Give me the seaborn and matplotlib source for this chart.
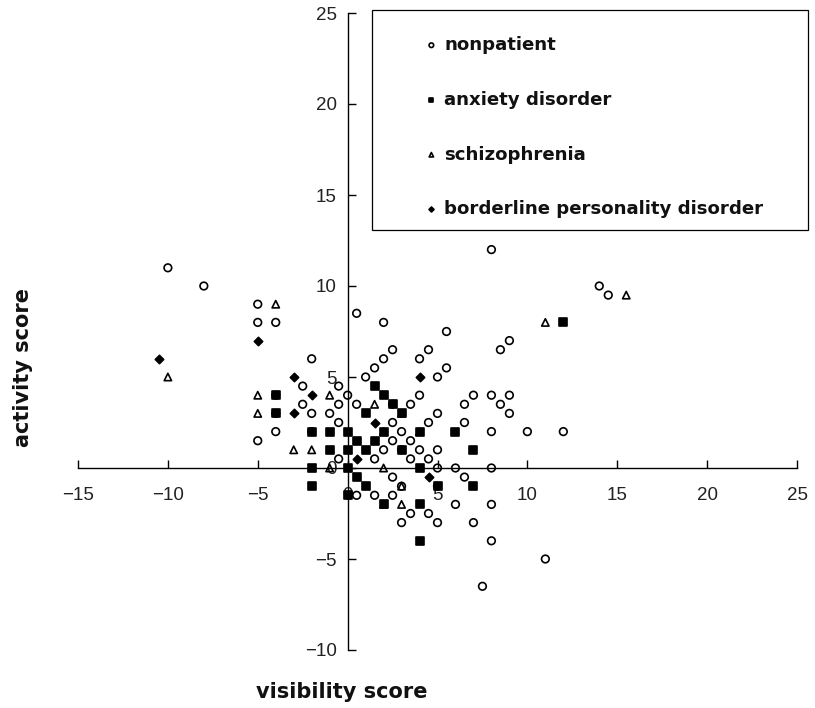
import matplotlib
matplotlib.use("Agg")
import matplotlib.pyplot as plt
from matplotlib.patches import Rectangle
import seaborn as sns
import pandas as pd

# points, one list per group (overlapping marks appear in two lists)
nonpatient_x = [-10, -8, -5, -5, -4, -2, -2.5, -0.5, 0, 0.5, -2.5, -0.5, -2, -1, -0.5, -5, -4, -0.5,
                0.5, 2, 2.5, 2, 1.5, 1, 2.5, 2.5, 2, 1.5, 2.5, 0.5, 1.5, 2.5, 3.5, 4.5, 3, 5, 7, 6, 8, 8,
                11, 7.5, 5, 6, 8, 6.5, 5.5, 4.5, 4, 8.5, 9, 5, 5.5, 4, 3.5, 4.5, 5, 3, 6.5, 6.5, 7, 8,
                8.5, 9, 9, 8, 10, 12, 3.5, 4, 3.5, 4.5, 8, 14, 14.5,
                -4, -4, -2, 2.5, 3, 5, 3, 5]
nonpatient_y = [11, 10, 9, 8, 8, 6, 4.5, 4.5, 4, 3.5, 3.5, 3.5, 3, 3, 2.5, 1.5, 2, 0.5,
                8.5, 8, 6.5, 6, 5.5, 5, 2.5, 1.5, 1, 0.5, -0.5, -1.5, -1.5, -1.5, -2.5, -2.5, -3, -3, -3, -2, -2, -4,
                -5, -6.5, 0, 0, 0, -0.5, 7.5, 6.5, 6, 6.5, 7, 5, 5.5, 4, 3.5, 2.5, 3, 2, 2.5, 3.5, 4, 4,
                3.5, 4, 3, 2, 2, 2, 1.5, 1, 0.5, 0.5, 12, 10, 9.5,
                4, 3, 2, 3.5, 1, 1, -1, -1]

anxiety_x = [-2, -2, -2, -1, 0, 0.5, 1.5, -1, 0, 1, 0, 0.5, 1, 0, 1.5, 2, 1, 2, 4, 5, 7, 4, 2, 4,
             6, 7, 12, 3, 4, -4, -4, 2.5, 3]
anxiety_y = [0, -1, 2, 2, 2, 1.5, 1.5, 1, 1, 1, 0, -0.5, -1, -1.5, 4.5, 4, 3, 2, 0, -1, -1, -2, -2, -4,
             2, 1, 8, 3, 2, 4, 3, 3.5, 1]

schizo_x = [-4, -10, -5, -5, -1, -3, -2, -1, 1.5, 2, 3, 11, 15.5, 3, 2, 4, 3, 2]
schizo_y = [9, 5, 4, 3, 4, 1, 1, 0, 3.5, 0, -2, 8, 9.5, 3, 2, 2, -1, -2]

borderline_x = [-10.5, -5, -3, -2, -3, 0.5, 1.5, 4, 4.5]
borderline_y = [6, 7, 5, 4, 3, 0.5, 2.5, 5, -0.5]

groups = ["nonpatient", "anxiety disorder", "schizophrenia", "borderline personality disorder"]
xticks = [-15, -10, -5, 0, 5, 10, 15, 20, 25]
yticks = [-10, -5, 0, 5, 10, 15, 20, 25]

sns.set_style("white")
plt.rcParams["font.family"] = ["Liberation Sans", "DejaVu Sans"]
plt.rcParams["xtick.direction"] = "in"
plt.rcParams["ytick.direction"] = "in"

fig = plt.figure(figsize=(8.15, 7.08), dpi=100)
ax = fig.add_axes([78 / 815, 58 / 708, 719 / 815, 637 / 708])

styles = [
    (nonpatient_x, nonpatient_y, "o", "none", 30),
    (anxiety_x, anxiety_y, "s", "black", 28),
    (schizo_x, schizo_y, "^", "none", 28),
    (borderline_x, borderline_y, "D", "black", 18),
]
for name, (xs, ys, m, fc, s) in zip(groups, styles):
    d = pd.DataFrame({"x": xs, "y": ys})
    sns.scatterplot(data=d, x="x", y="y", marker=m, s=s, facecolor=fc,
                    edgecolor="black", linewidth=1.2, ax=ax, label=name)

ax.set_xlim(-15, 25)
ax.set_ylim(-10, 25)
ax.set_xticks(xticks)
ax.set_yticks(yticks)
ax.spines["left"].set_position(("data", 0))
ax.spines["bottom"].set_position(("data", 0))
ax.spines["top"].set_visible(False)
ax.spines["right"].set_visible(False)
for sp in ["left", "bottom"]:
    ax.spines[sp].set_color("black")
    ax.spines[sp].set_linewidth(1.0)
ax.tick_params(axis="both", direction="in", length=6, width=1, color="black",
               bottom=True, left=True, labelsize=13.5, labelcolor="#222222")
ax.tick_params(axis="x", pad=14)
ax.tick_params(axis="y", pad=8)

ax.set_xlabel("visibility score", fontsize=15, fontweight="bold", color="#111111",
              family="DejaVu Sans")
ax.set_ylabel("activity score", fontsize=15, fontweight="bold", color="#111111",
              family="DejaVu Sans")
ax.xaxis.set_label_coords((342 - 78) / 719, -0.05)
ax.yaxis.set_label_coords(-0.062, 0.443)

# legend without its own frame, box drawn separately to match the padding of the scan
leg = ax.legend(loc="upper left", bbox_to_anchor=(425 / 815, 1 - 36 / 708),
                bbox_transform=fig.transFigure, borderaxespad=0, borderpad=0,
                frameon=False, markerscale=0.6, handlelength=0.7, handletextpad=0.35,
                labelspacing=2.02, prop={"family": "DejaVu Sans", "weight": "bold", "size": 13.1})
for t in leg.get_texts():
    t.set_color("#111111")
fig.patches.append(Rectangle((372 / 815, 1 - 230 / 708), 436 / 815, 220 / 708,
                             transform=fig.transFigure, fill=False, edgecolor="black",
                             linewidth=0.9))

fig.savefig("out.png", dpi=100)
